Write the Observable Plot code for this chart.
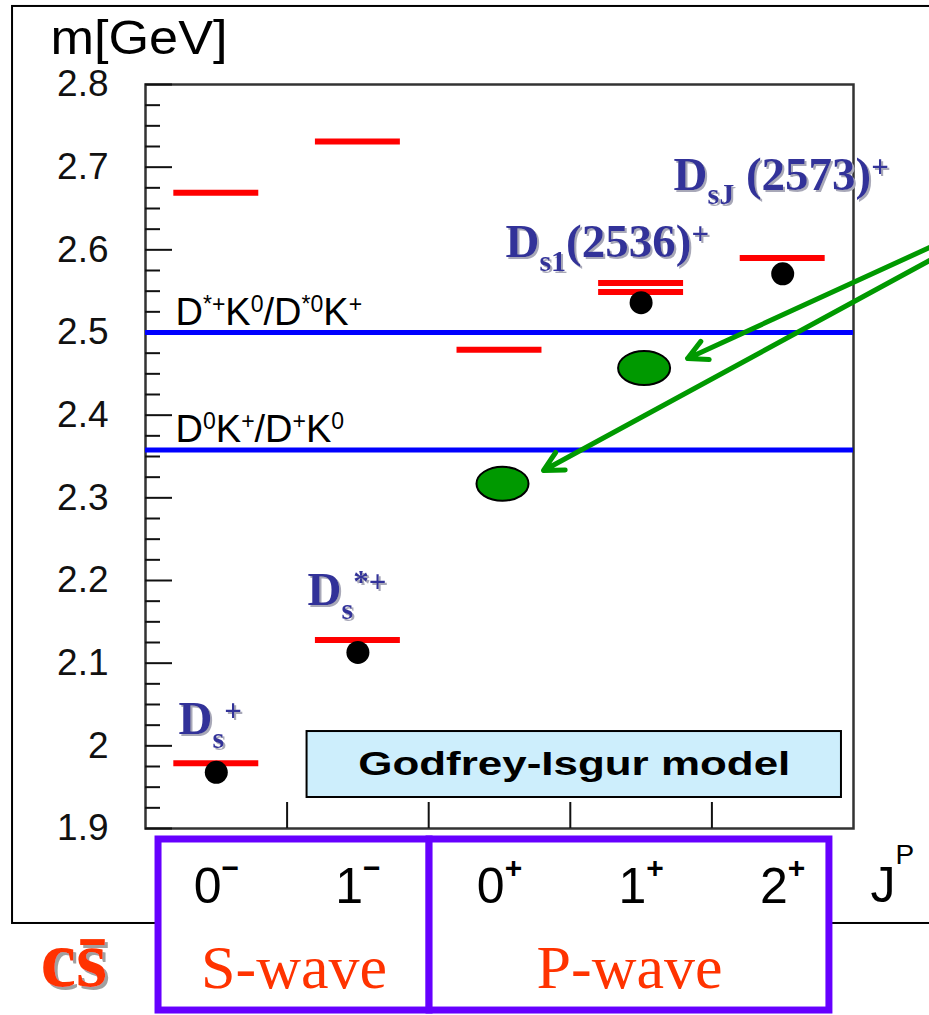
<!DOCTYPE html>
<html><head><meta charset="utf-8">
<script src="https://cdn.jsdelivr.net/npm/d3@7"></script>
<script src="https://cdn.jsdelivr.net/npm/@observablehq/plot@0.6"></script>
<style>
html,body{margin:0;padding:0;background:#fff;overflow:hidden}
</style></head><body><div id="chart"></div>
<script>
// ---------------- data ----------------
const jpIndex = [0, 1, 2, 3, 4];
const jpLabels = ["0^{−}", "1^{−}", "0^{+}", "1^{+}", "2^{+}"];
const yMajorTicks = [1.9, 2.0, 2.1, 2.2, 2.3, 2.4, 2.5, 2.6, 2.7, 2.8];
const yTickLabels = ["1.9", "2", "2.1", "2.2", "2.3", "2.4", "2.5", "2.6", "2.7", "2.8"];
// Godfrey-Isgur model predictions (red bars)
const modelJP   = [0, 0, 1, 1, 2, 3, 3, 4];
const modelMass = [1.979, 2.669, 2.128, 2.731, 2.479, 2.549, 2.560, 2.590];
// measured states (black dots)
const expJP   = [0, 1, 3, 4];
const expMass = [1.968, 2.113, 2.536, 2.571];
// new states (green ellipses)
const newJP   = [2, 3];
const newMass = [2.317, 2.457];
// thresholds (blue lines)
const thresholdMass   = [2.358, 2.500];
const thresholdLabels = ["D^{0}K^{+}/D^{+}K^{0}", "D^{*+}K^{0}/D^{*0}K^{+}"];
// particle names
const particleNames = ["D_{s}^{+}", "D_{s}^{*+}", "D_{s1}(2536)^{+}", "D_{sJ} (2573)^{+}"];
const waveNames = ["S-wave", "P-wave"];
const yLabel = "m[GeV]", xLabel = "J^{P}", quarkLabel = "cs\u0304", legendLabel = "Godfrey-Isgur model";

// ---------------- layout (annotation anchors, in data units) ----------------
const particleX = [-0.267, 0.644, 2.042, 3.229];
const particleY = [2.0149, 2.1698, 2.5919, 2.6718];
const arrowFromX = [5.037, 5.037], arrowFromY = [2.6028, 2.5871];
const arrowToX   = [3.328, 2.311], arrowToY   = [2.4686, 2.3331];
const outerFrame = [{x1: -1.439, x2: 5.4, y1: 1.7851, y2: 2.8944}];
const waveEdges = [-0.408, 1.506, 4.330];
const waveY = [1.6798, 1.8867];
const waveLabelY = 1.7065;
const legendBox = [{x1: 0.641, x2: 4.415, y1: 1.9375, y2: 2.0173}];

const model = modelJP.map((jp, i) => ({jp, mass: modelMass[i]}));
const exp = expJP.map((jp, i) => ({jp, mass: expMass[i]}));
const news = newJP.map((jp, i) => ({jp, mass: newMass[i]}));
const thresholds = thresholdMass.map((m, i) => ({m, label: thresholdLabels[i]}));
const particles = particleNames.map((name, i) => ({name, x: particleX[i], y: particleY[i]}));
const arrows = arrowFromX.map((x, i) => ({x1: x, y1: arrowFromY[i], x2: arrowToX[i], y2: arrowToY[i]}));
const waves = waveNames.map((label, i) => ({label, x1: waveEdges[i], x2: waveEdges[i + 1], y1: waveY[0], y2: waveY[1]}));
const yMinorTicks = d3.range(1.9, 2.8001, 0.025).filter(v => Math.abs(v * 10 - Math.round(v * 10)) > 1e-6);

const ellipse = {draw(ctx, size) {
  const ry = Math.sqrt(size / Math.PI), rx = ry * 1.53, k = 0.5523;
  ctx.moveTo(rx, 0);
  ctx.bezierCurveTo(rx, k * ry, k * rx, ry, 0, ry);
  ctx.bezierCurveTo(-k * rx, ry, -rx, k * ry, -rx, 0);
  ctx.bezierCurveTo(-rx, -k * ry, -k * rx, -ry, 0, -ry);
  ctx.bezierCurveTo(k * rx, -ry, rx, -k * ry, rx, 0);
  ctx.closePath();
}};

const chart = Plot.plot({
  width: 929, height: 1015,
  marginLeft: 145, marginRight: 76, marginTop: 84, marginBottom: 187,
  x: {domain: [-0.5, 4.5]},
  y: {domain: [1.9, 2.8]},
  style: {fontFamily: "Liberation Sans", background: "white", color: "black"},
  marks: [
    Plot.rect(outerFrame, {x1: "x1", x2: "x2", y1: "y1", y2: "y2", fill: "none", stroke: "black", strokeWidth: 2}),
    Plot.rect(waves, {x1: "x1", x2: "x2", y1: "y1", y2: "y2", fill: "white", stroke: "#6600ff", strokeWidth: 7}),
    Plot.text(waves, {x: d => (d.x1 + d.x2) / 2, y: waveLabelY, text: "label", lineAnchor: "bottom",
      fontFamily: "Liberation Serif", fontSize: 62, fill: "#ff3300", textAnchor: "middle"}),
    Plot.rect(legendBox, {x1: "x1", x2: "x2", y1: "y1", y2: "y2", fill: "#cdeefc", stroke: "black", strokeWidth: 2}),
    Plot.text(legendBox, {x: d => (d.x1 + d.x2) / 2, y: d => (d.y1 + d.y2) / 2, text: () => legendLabel,
      fontSize: 34, fontWeight: "bold", fill: "black", lineAnchor: "middle"}),
    Plot.frame({stroke: "#333", strokeWidth: 2.5}),
    Plot.ruleY(yMajorTicks, {x1: -0.5, x2: -0.5 + 27 / 141.6, stroke: "#111", strokeWidth: 2}),
    Plot.ruleY(yMinorTicks, {x1: -0.5, x2: -0.5 + 15 / 141.6, stroke: "#111", strokeWidth: 2}),
    Plot.ruleX([0.5, 1.5, 2.5, 3.5], {y1: 1.9, y2: 1.9 + 26 / 826.67, stroke: "#111", strokeWidth: 2}),
    Plot.axisY({ticks: yMajorTicks, tickSize: 0, tickPadding: 37, label: null, fontSize: 37,
      tickFormat: d => yTickLabels[yMajorTicks.indexOf(d)], fill: "#111"}),
    Plot.axisX({ticks: jpIndex, tickSize: 0, tickPadding: 38.5, label: null, fontSize: 50,
      tickFormat: d => jpLabels[d]}),
    Plot.text([yLabel], {x: -1.171, y: 2.8375, text: d => d, textAnchor: "start", lineAnchor: "bottom", fontSize: 48}),
    Plot.text([xLabel], {x: 4.62, y: 1.8105, text: d => d, textAnchor: "start", lineAnchor: "bottom", fontSize: 50}),
    Plot.text([quarkLabel], {x: -1.2415, y: 1.7089, text: d => d, textAnchor: "start", lineAnchor: "bottom",
      fontFamily: "Liberation Serif", fontWeight: "bold", fontSize: 80, fill: "#ff3300"}),
    Plot.ruleY(thresholds, {y: "m", stroke: "#0000ff", strokeWidth: 5}),
    Plot.text(thresholds, {x: -0.288, y: "m", dy: -8, text: "label", textAnchor: "start", lineAnchor: "bottom",
      fontSize: 38, fill: "black"}),
    Plot.ruleY(model, {y: "mass", x1: d => d.jp - 0.3, x2: d => d.jp + 0.3, stroke: "#ff0000", strokeWidth: 6}),
    Plot.dot(exp, {x: "jp", y: "mass", r: 11.5, fill: "black"}),
    Plot.dot(news, {x: "jp", y: "mass", r: 17, symbol: ellipse, fill: "#009900", stroke: "black", strokeWidth: 2, dx: 3}),
    Plot.arrow(arrows, {x1: "x1", y1: "y1", x2: "x2", y2: "y2", stroke: "#009900", strokeWidth: 5, headLength: 6.5, headAngle: 55}),
    Plot.text(particles, {x: "x", y: "y", text: "name", textAnchor: "start", lineAnchor: "bottom",
      fontFamily: "Liberation Serif", fontWeight: "bold", fontSize: 47, fill: "#333399"})
  ]
});

document.getElementById("chart").appendChild(chart);
const svg = chart.tagName.toLowerCase() === "svg" ? chart : chart.querySelector("svg");
const NS = "http://www.w3.org/2000/svg";

// shadows
const defs = document.createElementNS(NS, "defs");
defs.innerHTML = `<filter id="shBlue" x="-10%" y="-10%" width="130%" height="140%"><feDropShadow dx="2" dy="2" stdDeviation="0.6" flood-color="#a8a8b8"/></filter>
<filter id="shRed" x="-10%" y="-10%" width="130%" height="140%"><feDropShadow dx="3" dy="3" stdDeviation="0.6" flood-color="#a0a0a0"/></filter>`;
svg.insertBefore(defs, svg.firstChild);

// rich text (sub/superscripts)
function richify(t, {subSize, subShift, supSize, supShift, supWeight}) {
  const s = t.textContent;
  const re = /([_^])\{([^}]*)\}|([^_^]+)/g;
  t.textContent = "";
  let cur = 0, m;
  while ((m = re.exec(s))) {
    const ts = document.createElementNS(NS, "tspan");
    let target = 0, fs = null;
    if (m[3] !== undefined) ts.textContent = m[3];
    else {
      ts.textContent = m[2];
      if (m[1] === "_") { target = subShift; fs = subSize; }
      else { target = -supShift; fs = supSize; if (supWeight) ts.setAttribute("font-weight", supWeight); }
    }
    if (target !== cur) ts.setAttribute("dy", target - cur);
    cur = target;
    if (fs) ts.setAttribute("font-size", fs);
    t.appendChild(ts);
  }
}
const P = {subSize: 30, subShift: 14, supSize: 31, supShift: 13};
const T = {subSize: 22, subShift: 8, supSize: 23, supShift: 13};
const J = {subSize: 30, subShift: 8, supSize: 30, supShift: 25, supWeight: "bold"};
const JA = {subSize: 28, subShift: 8, supSize: 28, supShift: 38};
const rules = new Map();
particleNames.forEach(n => rules.set(n, P));
thresholdLabels.forEach(n => rules.set(n, T));
jpLabels.forEach(n => rules.set(n, J));
rules.set(xLabel, JA);

svg.querySelectorAll("text").forEach(t => {
  const s = t.textContent;
  if (particleNames.includes(s)) t.parentNode.setAttribute("filter", "url(#shBlue)");
  if (s === quarkLabel) t.parentNode.setAttribute("filter", "url(#shRed)");
  if (s === legendLabel) { t.setAttribute("textLength", 432); t.setAttribute("lengthAdjust", "spacingAndGlyphs"); }
  if (s === yLabel) { t.setAttribute("textLength", 177); t.setAttribute("lengthAdjust", "spacingAndGlyphs"); }
  if (rules.has(s)) richify(t, rules.get(s));
});
</script></body></html>
